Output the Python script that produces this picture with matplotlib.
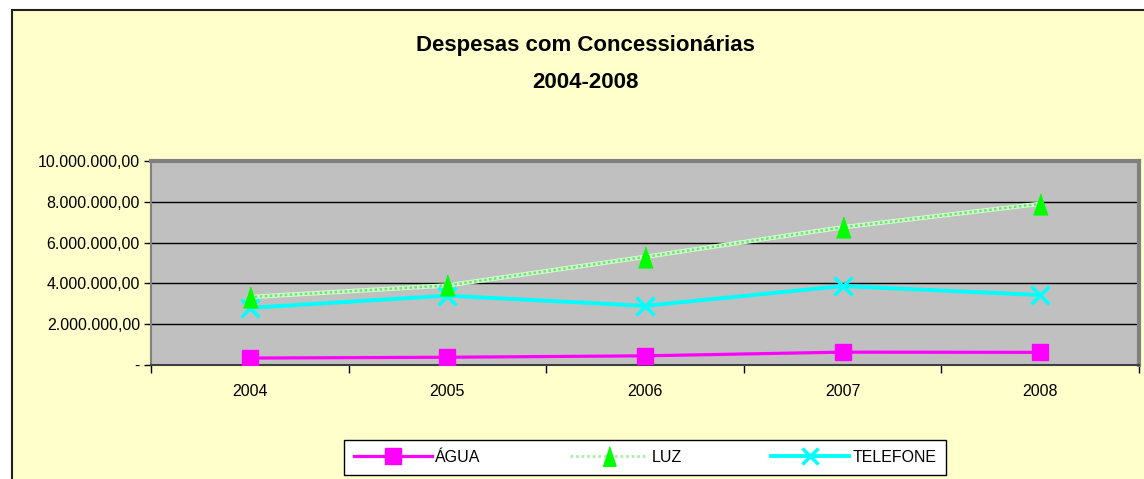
import numpy as np
import matplotlib
matplotlib.use("Agg")
import matplotlib.pyplot as plt
from matplotlib.patches import Rectangle
from matplotlib.lines import Line2D
from matplotlib.ticker import FixedLocator, NullFormatter

plt.rcParams['font.family'] = ['Liberation Sans', 'DejaVu Sans']

years = ['2004', '2005', '2006', '2007', '2008']
agua = [340000, 380000, 450000, 630000, 620000]
luz = [3330000, 3900000, 5300000, 6750000, 7900000]
telefone = [2800000, 3400000, 2900000, 3870000, 3430000]
y_ticks = [0, 2000000, 4000000, 6000000, 8000000, 10000000]
y_labels = ['-', '2.000.000,00', '4.000.000,00', '6.000.000,00', '8.000.000,00', '10.000.000,00']

W, H = 1144, 479
fig = plt.figure(figsize=(W / 100, H / 100), dpi=100, facecolor='white')

# chart area: pale yellow with dark border on left/top
bg = Rectangle((12 / W, -0.05), 1.2, 1 - 10 / H + 0.05, transform=fig.transFigure,
               facecolor='#FFFFCC', edgecolor='#202020', linewidth=1.5, zorder=-5)
fig.patches.append(bg)

ax = fig.add_axes([151 / W, 1 - 365 / H, (1139 - 151) / W, (365 - 161) / H], zorder=2)
ax.set_facecolor('#C0C0C0')
x = np.arange(len(years))

ax.plot(x, agua, color='#FF00FF', lw=2.3, marker='s', ms=11, mec='#FF00FF', zorder=3)

tri = [(-0.68, -1), (0.68, -1), (0, 1)]
ax.plot(x, luz, color='#CCFFCC', lw=3.2, zorder=3)
ax.plot(x, luz, color='#77DD77', lw=1.8, dashes=(1, 1), zorder=3)
ax.plot(x, luz, ls='none', marker=tri, ms=15, color='#00FF00', zorder=4)

ax.plot(x, telefone, color='#00FFFF', lw=2.8, marker='x', ms=13, mew=2.5, zorder=3)

ax.set_xlim(-0.5, len(years) - 0.5)
ax.set_ylim(0, 10000000)
ax.set_yticks(y_ticks)
ax.set_yticklabels(y_labels, fontsize=11.5)
ax.yaxis.grid(True, color='black', lw=1)
ax.set_axisbelow(True)

ax.xaxis.set_major_locator(FixedLocator(np.arange(-0.5, len(years), 1.0)))
ax.xaxis.set_major_formatter(NullFormatter())
ax.xaxis.set_minor_locator(FixedLocator(x))
ax.set_xticklabels(years, minor=True, fontsize=11.5)
ax.tick_params(axis='x', which='minor', length=0, pad=14)
ax.tick_params(axis='x', which='major', length=6, width=1, color='black', direction='out')
ax.tick_params(axis='y', length=5, width=1, color='black', direction='out', pad=3)

for side in ['top', 'right']:
    ax.spines[side].set_color('#808080')
    ax.spines[side].set_linewidth(3)
ax.spines['left'].set_color('#808080')
ax.spines['left'].set_linewidth(1.5)
ax.spines['bottom'].set_color('#404040')
ax.spines['bottom'].set_linewidth(1.5)

fig.text(585 / W, 1 - 45 / H, 'Despesas com Concessionárias', ha='center', va='center',
         fontsize=16, fontweight='bold')
fig.text(585 / W, 1 - 82 / H, '2004-2008', ha='center', va='center',
         fontsize=16, fontweight='bold')

# legend
h_agua = Line2D([], [], color='#FF00FF', lw=2.3, marker='s', ms=11)
h_luz = Line2D([], [], color='#AAEEAA', lw=2, dashes=(1, 1), marker=tri, ms=14, mfc='#00FF00', mec='#00FF00')
h_tel = Line2D([], [], color='#00FFFF', lw=2.8, marker='x', ms=11, mew=2.5)
leg = fig.legend([h_agua, h_luz, h_tel], ['ÁGUA', 'LUZ', 'TELEFONE'], ncol=3,
                 loc='center', bbox_to_anchor=(645 / W, 1 - 457.5 / H), fontsize=11.5,
                 frameon=True, fancybox=False, edgecolor='black', facecolor='white',
                 handlelength=4.9, handletextpad=0.2, columnspacing=5.6,
                 borderpad=0.6, framealpha=1)
leg.get_frame().set_linewidth(1)

fig.savefig('out.png', dpi=100, facecolor=fig.get_facecolor())
